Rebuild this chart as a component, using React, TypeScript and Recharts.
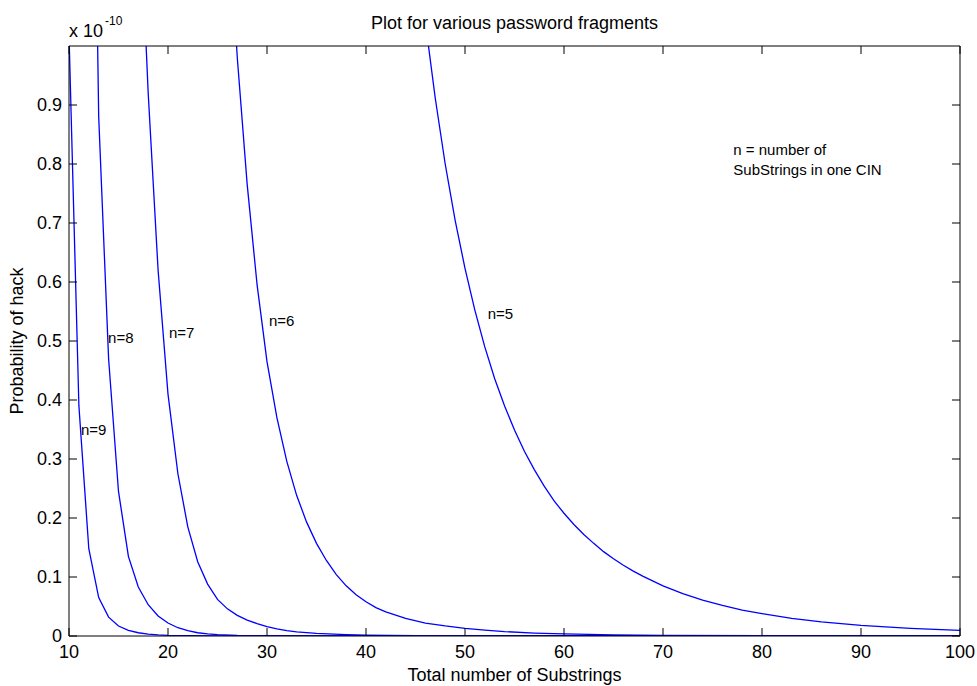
import { LineChart, Line, XAxis, YAxis, ReferenceDot } from "recharts";

const FONT = '"Liberation Sans", Arial, Helvetica, sans-serif';
const BLUE = "#0000ff";

// total number of substrings (x) and probability of hack in units of 1e-10 (y)
const n5N = [45, 46, 47, 48, 49, 50, 51, 52, 53, 54, 55, 56, 57, 58, 59, 60, 61, 62, 63, 64, 65, 66, 67, 68, 69, 70, 72, 74, 76, 78, 80, 83, 86, 90, 95, 100];
const n5P = [1.18, 1.04, 0.911, 0.8, 0.705, 0.623, 0.552, 0.49, 0.436, 0.39, 0.349, 0.313, 0.282, 0.254, 0.229, 0.208, 0.189, 0.172, 0.157, 0.143, 0.131, 0.12, 0.11, 0.101, 0.093, 0.085, 0.072, 0.061, 0.052, 0.044, 0.038, 0.03, 0.024, 0.018, 0.013, 0.0095];

const n6N = [26, 27, 28, 29, 30, 31, 32, 33, 34, 35, 36, 37, 38, 39, 40, 41, 42, 44, 46, 48, 50, 52, 54, 57, 60, 65, 70, 80, 100];
const n6P = [1.25, 0.98, 0.765, 0.595, 0.465, 0.37, 0.296, 0.238, 0.193, 0.157, 0.128, 0.104, 0.085, 0.07, 0.058, 0.048, 0.041, 0.03, 0.022, 0.017, 0.013, 0.01, 0.0075, 0.005, 0.0035, 0.002, 0.001, 0.0004, 0.0001];

const n7N = [17, 18, 19, 20, 21, 22, 23, 24, 25, 26, 27, 28, 29, 30, 31, 32, 33, 35, 38, 40, 45, 50, 60, 100];
const n7P = [1.3, 0.92, 0.62, 0.41, 0.275, 0.185, 0.126, 0.088, 0.062, 0.046, 0.035, 0.027, 0.021, 0.016, 0.012, 0.009, 0.007, 0.0045, 0.0025, 0.0015, 0.0006, 0.0002, 0, 0];

const n8N = [12, 13, 14, 15, 16, 17, 18, 19, 20, 21, 22, 23, 24, 25, 27, 30, 35, 40, 100];
const n8P = [2.0, 0.88, 0.47, 0.245, 0.135, 0.083, 0.053, 0.034, 0.022, 0.014, 0.009, 0.0055, 0.0035, 0.0022, 0.001, 0.0004, 0.0001, 0, 0];

const n9N = [10, 11, 12, 13, 14, 15, 16, 17, 18, 19, 20, 22, 25, 30, 100];
const n9P = [1.02, 0.39, 0.148, 0.065, 0.032, 0.017, 0.0095, 0.0055, 0.0033, 0.002, 0.0012, 0.0005, 0.0002, 0, 0];

const xTicks = [10, 20, 30, 40, 50, 60, 70, 80, 90, 100];
const yTicks = [0, 0.1, 0.2, 0.3, 0.4, 0.5, 0.6, 0.7, 0.8, 0.9];

const toRows = (xs: number[], ys: number[]) => xs.map((N, i) => ({ N, p: ys[i] }));

const curves = [
  { name: "n=5", data: toRows(n5N, n5P) },
  { name: "n=6", data: toRows(n6N, n6P) },
  { name: "n=7", data: toRows(n7N, n7P) },
  { name: "n=8", data: toRows(n8N, n8P) },
  { name: "n=9", data: toRows(n9N, n9P) },
];

// text(x, y, ...) annotations, placed in data units
const notes = [
  { text: "n=5", N: 52.3, p: 0.547 },
  { text: "n=6", N: 30.2, p: 0.534 },
  { text: "n=7", N: 20.1, p: 0.514 },
  { text: "n=8", N: 13.95, p: 0.505 },
  { text: "n=9", N: 11.2, p: 0.35 },
  { text: "n = number of", N: 77.1, p: 0.824 },
  { text: "SubStrings in one CIN", N: 77.1, p: 0.79 },
];

const tickStyle = { fill: "#000", fontSize: 18, fontFamily: FONT };
const blank = () => "";

export default function App() {
  return (
    <div style={{ position: "fixed", left: 0, top: 0, width: 977, height: 686, background: "#fff" }}>
      <LineChart width={977} height={686} margin={{ top: 45, right: 16, bottom: 20, left: 19 }}>
        <XAxis
          dataKey="N"
          type="number"
          domain={[10, 100]}
          ticks={xTicks}
          interval={0}
          allowDataOverflow
          height={30}
          tickSize={-8}
          tickMargin={17}
          axisLine={{ stroke: "#000" }}
          tickLine={{ stroke: "#000" }}
          tick={tickStyle}
        />
        <XAxis
          xAxisId="top"
          orientation="top"
          dataKey="N"
          type="number"
          domain={[10, 100]}
          ticks={xTicks}
          interval={0}
          allowDataOverflow
          height={1}
          tickSize={-8}
          tickFormatter={blank}
          axisLine={{ stroke: "#000" }}
          tickLine={{ stroke: "#000" }}
        />
        <YAxis
          type="number"
          domain={[0, 1]}
          ticks={yTicks}
          interval={0}
          allowDataOverflow
          width={50}
          tickSize={-8}
          tickMargin={15}
          tickFormatter={(v: number) => (v === 0 ? "0" : v.toFixed(1))}
          axisLine={{ stroke: "#000" }}
          tickLine={{ stroke: "#000" }}
          tick={tickStyle}
        />
        <YAxis
          yAxisId="right"
          orientation="right"
          type="number"
          domain={[0, 1]}
          ticks={yTicks}
          interval={0}
          allowDataOverflow
          width={1}
          tickSize={-8}
          tickFormatter={blank}
          axisLine={{ stroke: "#000" }}
          tickLine={{ stroke: "#000" }}
        />
        {curves.map((c) => (
          <Line
            key={c.name}
            name={c.name}
            data={c.data}
            dataKey="p"
            type="linear"
            stroke={BLUE}
            strokeWidth={1.3}
            dot={false}
            activeDot={false}
            isAnimationActive={false}
          />
        ))}
        {notes.map((n) => (
          <ReferenceDot
            key={n.text}
            x={n.N}
            y={n.p}
            r={0}
            fill="none"
            stroke="none"
            label={{ value: n.text, position: "right", offset: 0, fill: "#000", fontSize: 15, fontFamily: FONT }}
          />
        ))}
        <text x={514.5} y={29} textAnchor="middle" fontSize={18} fontFamily={FONT} fill="#000">
          Plot for various password fragments
        </text>
        <text x={514.5} y={681} textAnchor="middle" fontSize={18} fontFamily={FONT} fill="#000">
          Total number of Substrings
        </text>
        <text transform="translate(23,341) rotate(-90)" textAnchor="middle" fontSize={18} fontFamily={FONT} fill="#000">
          Probability of hack
        </text>
        <text x={69} y={37} fontSize={18} fontFamily={FONT} fill="#000">
          x 10
        </text>
        <text x={105} y={25} fontSize={12} fontFamily={FONT} fill="#000">
          -10
        </text>
      </LineChart>
    </div>
  );
}
